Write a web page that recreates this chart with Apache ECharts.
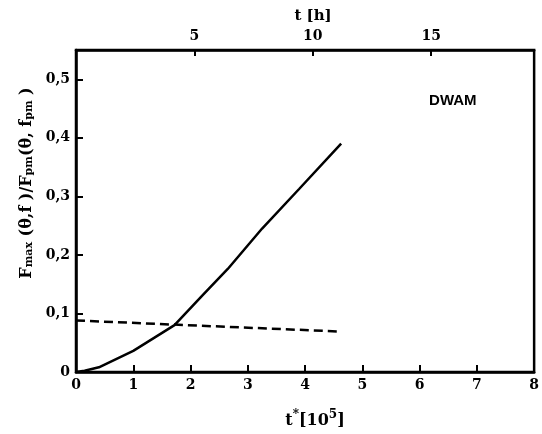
<!DOCTYPE html>
<html>
<head>
<meta charset="utf-8">
<script src="https://cdn.jsdelivr.net/npm/echarts@6/dist/echarts.min.js"></script>
<style>html,body{margin:0;padding:0;background:#fff;}#c{width:542px;height:434px;}</style>
</head>
<body>
<div id="c"></div>
<script>
// t* [10^5] values for the solid curve
const solidX = [0, 0.15, 0.4, 1.0, 1.72, 2.2, 2.65, 3.25, 3.9, 4.63];
const solidY = [0, 0.002, 0.008, 0.036, 0.08, 0.13, 0.176, 0.245, 0.313, 0.39];
// dashed line
const dashX = [0, 4.63];
const dashY = [0.088, 0.069];
// axis ticks
const bottomTicks = [0, 1, 2, 3, 4, 5, 6, 7, 8];
const topTicks = [5, 10, 15];
const leftTicks = [0, 0.1, 0.2, 0.3, 0.4, 0.5];
const annotation = 'DWAM';

const serif = '"DejaVu Serif", "Liberation Serif", serif';
const black = '#000';

const chart = echarts.init(document.getElementById('c'), null, {renderer: 'canvas'});
const pair = (xs, ys) => xs.map((x, i) => [x, ys[i]]);

chart.setOption({
  backgroundColor: '#fff',
  animation: false,
  grid: {left: 76, right: 5, top: 50, bottom: 61, show: true, borderColor: black, borderWidth: 2.5, backgroundColor: 'transparent'},
  xAxis: [{
    type: 'value', position: 'bottom', min: 0, max: 8, interval: 1,
    axisLine: {show: true, lineStyle: {color: black, width: 2.5}},
    axisTick: {show: true, inside: true, length: 7, lineStyle: {color: black, width: 2}},
    splitLine: {show: false},
    axisLabel: {color: black, fontFamily: serif, fontWeight: 'bold', fontSize: 14, margin: 6,
      formatter: v => bottomTicks.includes(v) ? String(v) : ''},
    name: '{b|t}{s|*}{b|[10}{s|5}{b|]}',
    nameLocation: 'middle', nameGap: 37,
    nameTextStyle: {padding: [0, 0, 0, 20], rich: {
      b: {fontFamily: serif, fontWeight: 'bold', fontSize: 16, color: black, verticalAlign: 'bottom', lineHeight: 20},
      s: {fontFamily: serif, fontWeight: 'bold', fontSize: 12, color: black, verticalAlign: 'top', lineHeight: 20, padding: [0, 0, 8, 0]}
    }}
  }, {
    type: 'value', position: 'top', min: 0, max: 19.35, interval: 5,
    axisLine: {show: true, lineStyle: {color: black, width: 2.5}},
    axisTick: {show: true, inside: true, length: 6, lineStyle: {color: black, width: 2}},
    splitLine: {show: false},
    axisLabel: {color: black, fontFamily: serif, fontWeight: 'bold', fontSize: 14, margin: 7, showMaxLabel: false,
      formatter: v => topTicks.includes(v) ? String(v) : ''},
    name: 't [h]', nameLocation: 'middle', nameGap: 25,
    nameTextStyle: {fontFamily: serif, fontWeight: 'bold', fontSize: 15, color: black, padding: [0, 0, 0, 16]}
  }],
  yAxis: [{
    type: 'value', min: 0, max: 0.55, interval: 0.1,
    axisLine: {show: true, lineStyle: {color: black, width: 2.5}},
    axisTick: {show: true, inside: true, length: 7, lineStyle: {color: black, width: 2}},
    splitLine: {show: false},
    axisLabel: {color: black, fontFamily: serif, fontWeight: 'bold', fontSize: 14, margin: 6, showMaxLabel: false,
      formatter: v => {
        const t = leftTicks.find(k => Math.abs(k - v) < 1e-6);
        return t === undefined ? '' : String(t).replace('.', ',');
      }},
    name: '{b|F}{s|max}{b| (θ,f )/F}{s|pm}{b|(θ, f}{s|pm}{b| )}',
    nameLocation: 'middle', nameGap: 41, nameRotate: 90,
    nameTextStyle: {padding: [0, 0, 0, 56], rich: {
      b: {fontFamily: serif, fontWeight: 'bold', fontSize: 16, color: black, verticalAlign: 'bottom', lineHeight: 22},
      s: {fontFamily: serif, fontWeight: 'bold', fontSize: 11, color: black, verticalAlign: 'bottom', lineHeight: 22, padding: [6, 0, 0, 0]}
    }}
  }],
  series: [{
    type: 'line', xAxisIndex: 0, yAxisIndex: 0, data: pair(solidX, solidY),
    showSymbol: false, smooth: false,
    lineStyle: {color: black, width: 2.5, type: 'solid'}
  }, {
    type: 'line', xAxisIndex: 0, yAxisIndex: 0, data: pair(dashX, dashY),
    showSymbol: false,
    lineStyle: {color: black, width: 2.5, type: [9, 5]},
    markPoint: {
      symbol: 'rect', symbolSize: 0,
      label: {show: true, formatter: annotation, fontFamily: '"Liberation Sans", Arial, sans-serif', fontWeight: 'bold', fontSize: 15, color: black},
      data: [{coord: [6.58, 0.463]}]
    }
  }]
});
</script>
</body>
</html>
